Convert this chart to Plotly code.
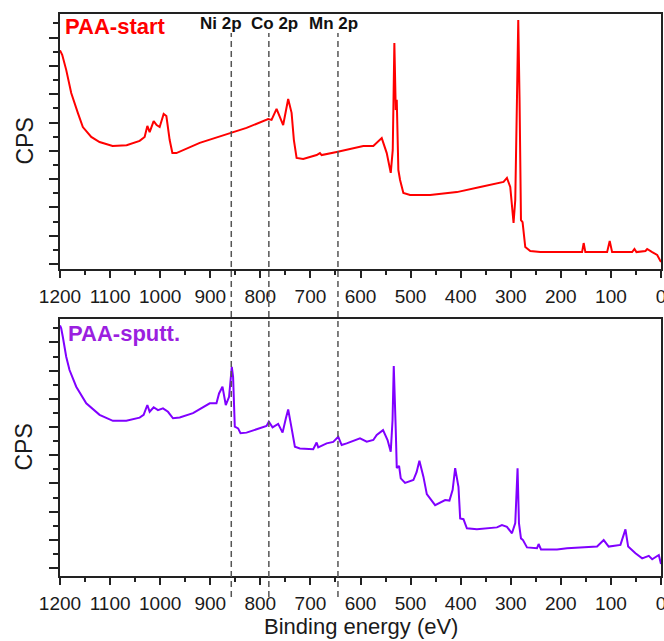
import plotly.graph_objects as go

# ---------------- data (binding energy in eV, intensity in arbitrary CPS units) -------------
start_energy = [1200, 1195.6, 1187.6, 1177.6, 1164.4, 1154.4, 1137.6, 1121, 1095, 1067, 1041, 1031,
                1025.6, 1021, 1013, 1007, 1001, 993, 987.6, 981, 975.6, 967.6, 921, 861, 827.6,
                784.4, 777.6, 767.6, 754.4, 744.4, 737.6, 733, 727.6, 714.4, 687.6, 681, 677.6,
                647.6, 594.4, 574.4, 557.6, 547.6, 539.6, 535.6, 532.4, 529.6, 527.6, 524.4, 521,
                514.4, 501, 461, 407.6, 361, 327.6, 314.4, 307.6, 301, 294.4, 291, 287.6, 285,
                282.4, 279.6, 276.4, 271, 261, 241, 194.4, 157.6, 154.4, 151, 107.6, 102.4, 97.6,
                57.6, 53, 49, 31, 27.6, 17.6, 7.6, 0]
start_cps = [7.55, 7.39, 6.86, 6.04, 5.34, 4.84, 4.49, 4.31, 4.17, 4.20, 4.35, 4.49,
             4.88, 4.66, 5.05, 4.91, 4.84, 5.30, 5.23, 4.38, 3.92, 3.92, 4.28, 4.63, 4.81,
             5.12, 5.09, 5.48, 4.91, 5.83, 5.34, 4.38, 3.75, 3.71, 3.85, 3.92, 3.85,
             3.96, 4.17, 4.17, 4.45, 3.92, 3.22, 4.03, 7.81, 5.44, 5.80, 3.32, 2.97,
             2.51, 2.44, 2.44, 2.54, 2.72, 2.86, 2.90, 3.04, 2.72, 1.45, 2.26, 5.80, 8.62,
             5.80, 1.55, 1.48, 0.60, 0.46, 0.42, 0.42, 0.42, 0.74, 0.42, 0.42, 0.81, 0.42,
             0.42, 0.53, 0.42, 0.46, 0.53, 0.42, 0.32, 0.07]

sputt_energy = [1200, 1197.6, 1194.4, 1187.6, 1181, 1167.6, 1147.6, 1121, 1094.4, 1067.6, 1041, 1033,
                1025.6, 1021, 1013, 1004.4, 994.4, 984.4, 974.4, 961, 934.4, 901, 887.6, 882.4,
                875.6, 869, 862.4, 857, 854.4, 851, 844.4, 839.6, 827.6, 801, 787.6, 783, 775.6,
                764.4, 755.6, 749, 744.4, 737.6, 731, 721, 694.4, 687.6, 684.4, 667.6, 654.4,
                644.4, 637.6, 627.6, 601, 587.6, 574.4, 567.6, 555, 546, 539.6, 536, 533.6,
                529.6, 527.6, 523, 519.6, 511, 494.4, 488, 482.4, 474.4, 467.6, 451, 431, 422.4,
                416, 411, 404.4, 401, 394.4, 387.6, 367.6, 327.6, 317.6, 307.6, 297.6, 291,
                286.4, 283.6, 279.6, 275.6, 267.6, 247.6, 244.4, 239.6, 207.6, 187.6, 127.6,
                114.4, 104.4, 81, 71, 65.6, 51, 37.6, 24.4, 17.6, 4.4, 0]
sputt_cps = [8.60, 8.50, 8.20, 7.49, 7.02, 6.43, 5.84, 5.43, 5.22, 5.22, 5.33, 5.43,
             5.78, 5.54, 5.70, 5.60, 5.66, 5.54, 5.31, 5.34, 5.49, 5.84, 5.84, 6.19,
             6.43, 5.78, 6.07, 7.13, 6.78, 5.01, 4.95, 4.78, 4.80, 4.95, 5.04, 5.19, 4.99,
             5.11, 4.80, 5.31, 5.62, 4.96, 4.30, 4.24, 4.21, 4.45, 4.28, 4.42, 4.47,
             4.65, 4.36, 4.42, 4.60, 4.48, 4.54, 4.72, 4.89, 4.54, 4.12, 5.25, 7.16,
             4.89, 3.55, 3.62, 3.18, 3.02, 3.12, 3.40, 3.80, 3.24, 2.62, 2.23, 2.41, 2.39,
             2.77, 3.54, 2.88, 1.76, 1.73, 1.41, 1.37, 1.44, 1.52, 1.46, 1.23, 1.59,
             3.54, 1.59, 1.05, 0.99, 0.73, 0.70, 0.85, 0.66, 0.66, 0.70, 0.76,
             0.99, 0.76, 0.82, 1.37, 0.76, 0.52, 0.34, 0.43, 0.31, 0.46, 0.14]

line_names = ["Ni 2p", "Co 2p", "Mn 2p"]
line_energy = [858, 783, 645]
label_energy = [878, 772, 653]

panel_names = ["PAA-start", "PAA-sputt."]

FONT = "Liberation Sans, Arial, Helvetica, sans-serif"
RED = "#ff0000"
PURPLE = "#8000ff"
PURPLE_TXT = "#9b1fe0"
AX = "#222222"

fig = go.Figure()
fig.add_trace(go.Scatter(x=start_energy, y=start_cps, mode="lines",
                         line=dict(color=RED, width=2), xaxis="x", yaxis="y", showlegend=False))
fig.add_trace(go.Scatter(x=sputt_energy, y=sputt_cps, mode="lines",
                         line=dict(color=PURPLE, width=2), xaxis="x2", yaxis="y2", showlegend=False))

H_PLOT = 562.0
top_dom = [(576 - 269) / H_PLOT, 1.0]
bot_dom = [0.0, (576 - 319) / H_PLOT]


def xax(anchor):
    return dict(domain=[0, 1], anchor=anchor, range=[1200, 0], autorange=False,
                tick0=0, dtick=100, ticks="outside", ticklen=7, tickwidth=1.5, tickcolor=AX,
                minor=dict(dtick=50, ticks="outside", ticklen=4, tickwidth=1.5, tickcolor=AX),
                showline=True, linecolor=AX, linewidth=1.6, mirror=True,
                showgrid=False, zeroline=False, automargin=False, ticklabeloverflow="allow",
                tickfont=dict(family=FONT, size=19, color="#1a1a1a"), ticklabelstandoff=2)


def yax(anchor, dom, rng):
    return dict(domain=dom, anchor=anchor, range=rng, autorange=False,
                tick0=0, dtick=1, ticks="outside", ticklen=9, tickwidth=1.5, tickcolor=AX,
                minor=dict(dtick=0.5, ticks="outside", ticklen=5, tickwidth=1.5, tickcolor=AX),
                showticklabels=False, showline=True, linecolor=AX, linewidth=1.6, mirror=True,
                showgrid=False, zeroline=False, automargin=False)


fig.update_layout(
    width=664, height=641,
    margin=dict(l=60, r=3, t=14, b=65, autoexpand=False),
    paper_bgcolor="white", plot_bgcolor="white",
    xaxis=xax("y"),
    yaxis=yax("x", top_dom, [-0.177, 8.834]),
    xaxis2=xax("y2"),
    yaxis2=yax("x2", bot_dom, [-0.284, 8.830]),
)

# dashed reference lines crossing both panels
y0p = (576 - 597) / H_PLOT
y1p = (576 - 33) / H_PLOT
for e in line_energy:
    fig.add_shape(type="line", xref="x", yref="paper", x0=e, x1=e, y0=y0p, y1=y1p,
                  line=dict(color="#555555", width=1.5, dash="6px,4px"), layer="above")

# element labels
for name, e in zip(line_names, label_energy):
    fig.add_annotation(x=e, xref="x", y=(576 - 23.5) / H_PLOT, yref="paper",
                       text=f"<b>{name}</b>", showarrow=False, xanchor="center", yanchor="middle",
                       font=dict(family=FONT, size=17, color="#111111"))

# panel labels
fig.add_annotation(x=(63 - 60) / 601, xref="paper", y=(576 - 26) / H_PLOT, yref="paper",
                   text=f"<b>{panel_names[0]}</b>", showarrow=False, xanchor="left", yanchor="middle",
                   font=dict(family=FONT, size=22, color=RED))
fig.add_annotation(x=(66 - 60) / 601, xref="paper", y=(576 - 333) / H_PLOT, yref="paper",
                   text=f"<b>{panel_names[1]}</b>", showarrow=False, xanchor="left", yanchor="middle",
                   font=dict(family=FONT, size=22, color=PURPLE_TXT))

# y-axis titles
for yc in [141.5, 447.5]:
    fig.add_annotation(x=(24 - 60) / 601, xref="paper", y=(576 - yc) / H_PLOT, yref="paper",
                       text="CPS", showarrow=False, textangle=-90, xanchor="center", yanchor="middle",
                       font=dict(family=FONT, size=23, color="#1a1a1a"))

# x-axis title
fig.add_annotation(x=(360.5 - 60) / 601, xref="paper", y=(576 - 626) / H_PLOT, yref="paper",
                   text="Binding energy (eV)", showarrow=False, xanchor="center", yanchor="middle",
                   font=dict(family=FONT, size=22, color="#1a1a1a"))

fig.write_html("out.html", post_script="document.body.style.margin='0';",
               config={"displayModeBar": False})
